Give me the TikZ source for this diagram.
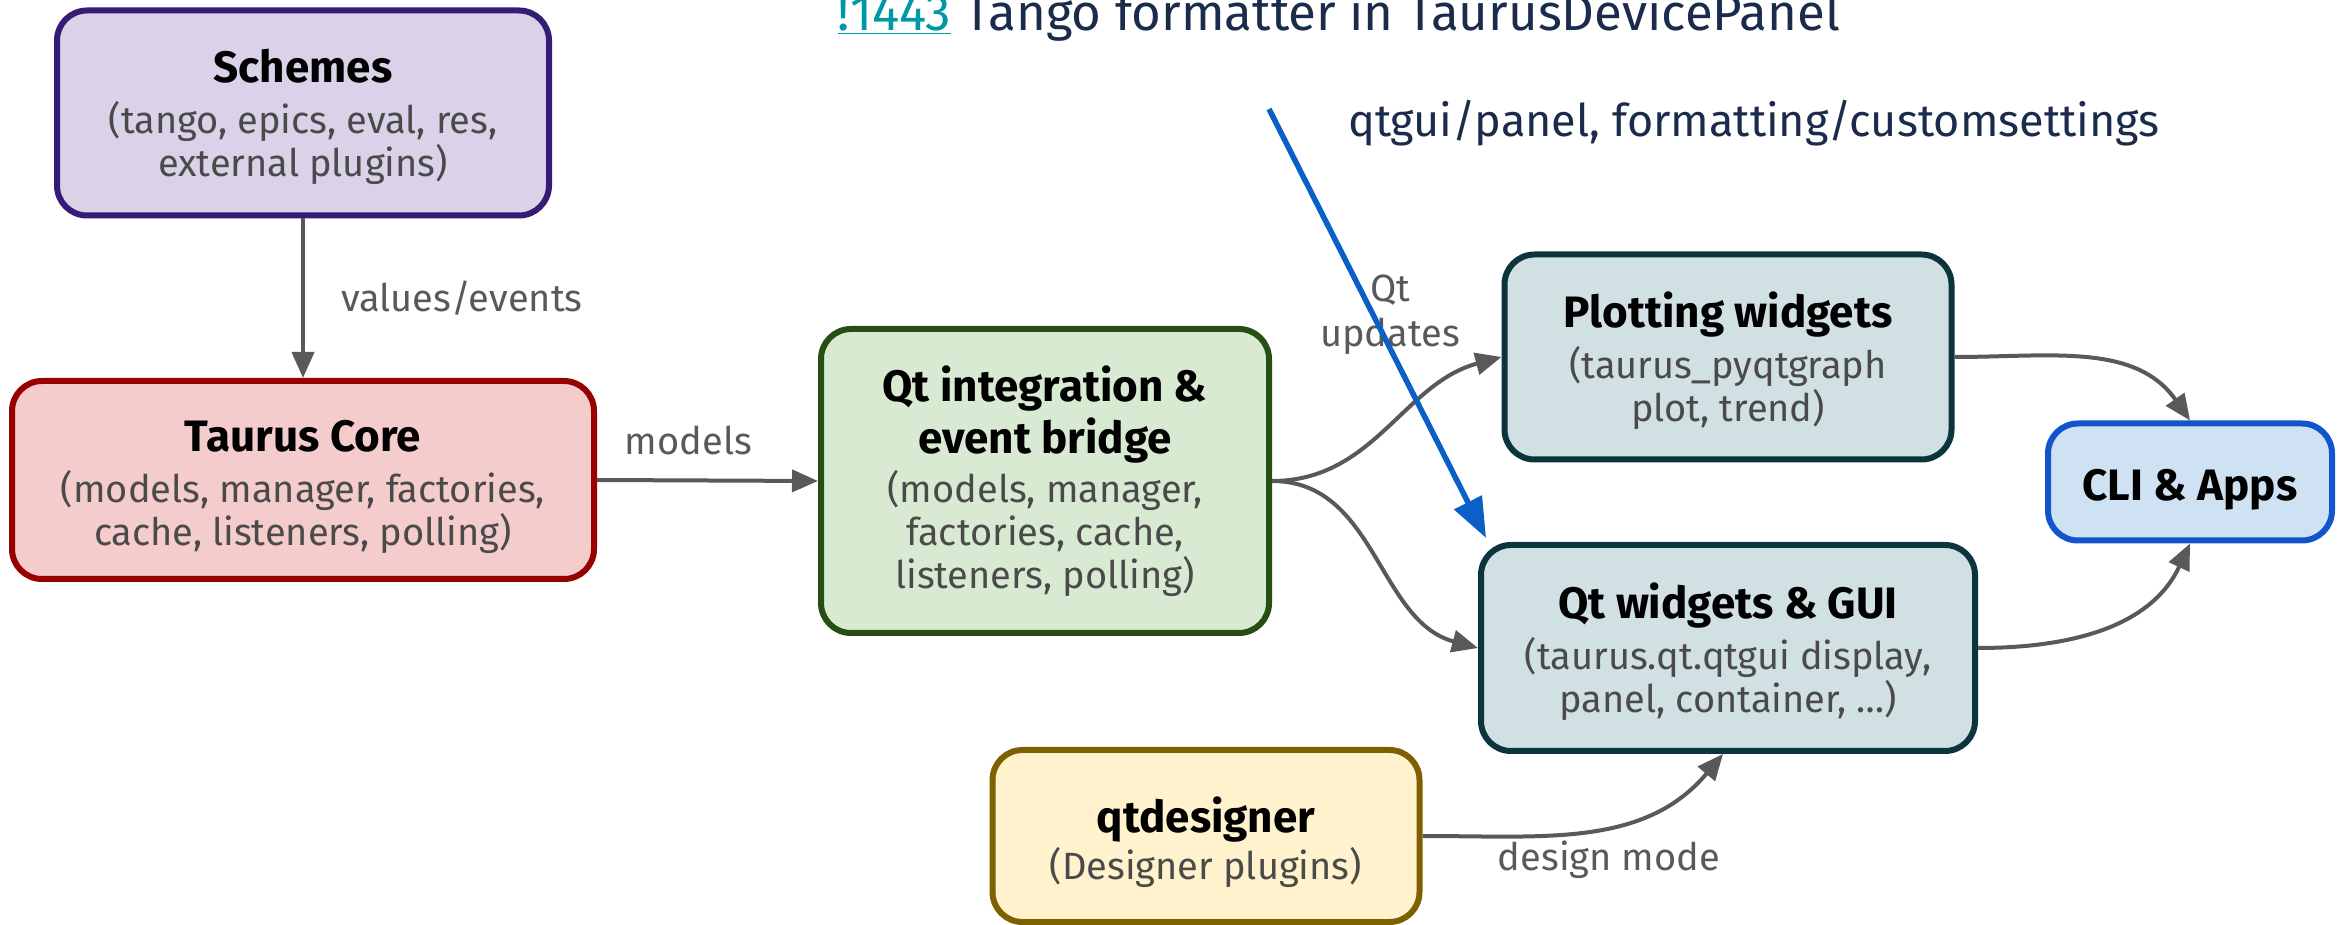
\documentclass[tikz,border=0pt]{standalone}
\usepackage{fontspec}
\setmainfont{Fira Sans}
\usetikzlibrary{arrows.meta,calc}
\definecolor{schfill}{HTML}{D9D2E9}\definecolor{schdraw}{HTML}{351C75}
\definecolor{corefill}{HTML}{F4CCCC}\definecolor{coredraw}{HTML}{990000}
\definecolor{qifill}{HTML}{D9EAD3}\definecolor{qidraw}{HTML}{274E13}
\definecolor{qwfill}{HTML}{D0E0E3}\definecolor{qwdraw}{HTML}{0C343D}
\definecolor{clifill}{HTML}{CFE2F3}\definecolor{clidraw}{HTML}{1155CC}
\definecolor{qdfill}{HTML}{FFF2CC}\definecolor{qddraw}{HTML}{7F6000}
\definecolor{bodygray}{HTML}{4A4A4A}
\definecolor{edgegray}{HTML}{595959}
\definecolor{navy}{HTML}{1B2B4B}
\definecolor{teal}{HTML}{0097A7}
\definecolor{bluearrow}{HTML}{0B60C8}
\newcommand\hdr[1]{{\fontsize{44}{50}\selectfont\bfseries\color{black}#1}}
\newcommand\tstrut[1]{\rule{0pt}{#1}}
\begin{document}
\begin{tikzpicture}[x=1pt,y=1pt,
  box/.style={rounded corners=30pt, line width=6pt, align=center, inner sep=0pt,
    font=\fontsize{38}{43}\selectfont, text=bodygray},
  conn/.style={draw=edgegray, line width=4pt, -{Triangle[length=26pt,width=22pt]}},
  elabel/.style={font=\fontsize{38}{45}\selectfont, text=edgegray, inner sep=0pt, align=center},
  toptext/.style={font=\fontsize{45}{52}\selectfont, text=navy, inner sep=0pt}
]
\useasboundingbox (0,0) rectangle (2346,924);
\fill[white] (0,0) rectangle (2346,924);

\node[box, fill=schfill, draw=schdraw, minimum width=492pt, minimum height=205pt] (sch) at (303,811)
  {\tstrut{42pt}\hdr{Schemes}\\[8pt](tango, epics, eval, res,\\external plugins)};
\node[box, fill=corefill, draw=coredraw, minimum width=582pt, minimum height=198pt] (core) at (303,444)
  {\tstrut{46pt}\hdr{Taurus Core}\\[8pt](models, manager, factories,\\cache, listeners, polling)};
\node[box, fill=qifill, draw=qidraw, minimum width=448pt, minimum height=304pt] (qi) at (1045,443)
  {\hdr{Qt integration \&}\\[6pt]\hdr{event bridge}\\[6pt](models, manager,\\factories, cache,\\listeners, polling)};
\node[box, fill=qwfill, draw=qwdraw, minimum width=447pt, minimum height=205pt] (plot) at (1728,567)
  {\tstrut{44pt}\hdr{Plotting widgets}\\[8pt](taurus\_pyqtgraph\\plot, trend)};
\node[box, fill=qwfill, draw=qwdraw, minimum width=494pt, minimum height=206pt] (qw) at (1728,276)
  {\tstrut{44pt}\hdr{Qt widgets \& GUI}\\[8pt](taurus.qt.qtgui display,\\panel, container, \dots)};
\node[box, fill=clifill, draw=clidraw, minimum width=284pt, minimum height=117pt] (cli) at (2190,442)
  {\tstrut{46pt}\hdr{CLI \& Apps}};
\node[box, fill=qdfill, draw=qddraw, minimum width=427pt, minimum height=172pt] (qd) at (1206,88)
  {\tstrut{49pt}\hdr{qtdesigner}\\[4pt](Designer plugins)};

\node[toptext, font=\fontsize{51}{58}\selectfont, anchor=base] (title) at (1339,893)
  {{\color{teal}\underline{!1443}} Tango formatter in TaurusDevicePanel};
\node[toptext] (path) at (1754,801) {qtgui/panel, formatting/customsettings};

\draw[conn] (sch.south) -- node[elabel, anchor=west, xshift=36pt] (l1) {values/events} (core.north);
\draw[conn] (core.east) -- node[elabel, anchor=south, xshift=-19pt, yshift=24pt] (l2) {models} (qi.west);
\draw[conn] (qi.east) to[out=0, in=195] (plot.west);
\draw[conn] (qi.east) to[out=0, in=165] (qw.west);
\draw[conn] (plot.east) to[out=0, in=125] (cli.north);
\draw[conn] (qw.east) to[out=0, in=245] (cli.south);
\draw[conn] (qd.east) to[out=0, in=230] ($(qw.south)+(-5,0)$);
\node[elabel] (l3) at (1390,609) {Qt\\updates};
\node[elabel] (l4) at (1609,64) {design mode};

\coordinate (bstart) at (1269,815);
\coordinate (bend) at ($(qw.north west)+(8,4)$);
\draw[draw=bluearrow, line width=5.5pt, -{Triangle[length=40pt,width=30pt]}] (bstart) -- (bend);
\end{tikzpicture}
\end{document}
